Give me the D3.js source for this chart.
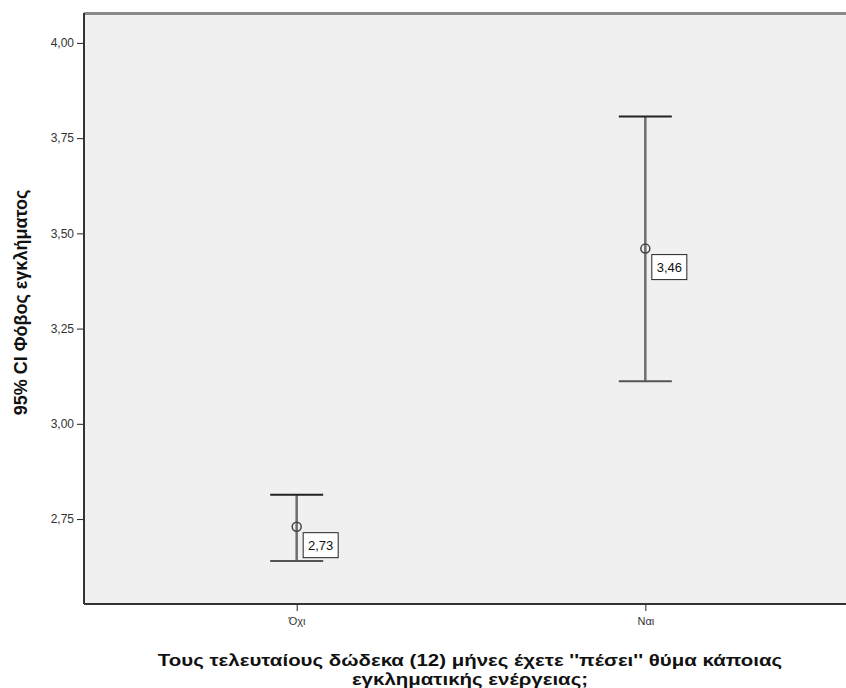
<!DOCTYPE html>
<html>
<head>
<meta charset="utf-8">
<script src="https://cdn.jsdelivr.net/npm/d3@7"></script>
<style>
  html, body { margin: 0; padding: 0; background: #ffffff; }
  svg { display: block; }
  text { font-family: "Liberation Sans", Arial, sans-serif; }
</style>
</head>
<body>
<svg id="chart" width="846" height="688"></svg>
<script>
// Groups and their 95% confidence intervals of the mean
const categories = ["Όχι", "Ναι"];
const means = [2.73, 3.46];
const lowerCI = [2.640, 3.112];
const upperCI = [2.814, 3.807];
const meanLabels = ["2,73", "3,46"];
const yTicks = [2.75, 3.00, 3.25, 3.50, 3.75, 4.00];

const yTitle = "95% CI Φόβος εγκλήματος";
const xTitleLines = ["Τους τελευταίους δώδεκα (12) μήνες έχετε ''πέσει'' θύμα κάποιας", "εγκληματικής ενέργειας;"];

const svg = d3.select("#chart");
const plot = { left: 84, top: 13, right: 858, bottom: 604 };

const x = d3.scalePoint()
  .domain(categories)
  .range([plot.left, plot.right])
  .padding(0.61);

const y = d3.scaleLinear()
  .domain([2.527, 4.0785])
  .range([plot.bottom, plot.top]);

const fmt = v => d3.format(".2f")(v).replace(".", ",");

// plot background
svg.append("rect")
  .attr("x", plot.left).attr("y", plot.top)
  .attr("width", plot.right - plot.left).attr("height", plot.bottom - plot.top)
  .attr("fill", "#f0f0f0");

// frame: lighter top edge, darker left and bottom edges
svg.append("line")
  .attr("x1", plot.left).attr("x2", plot.right)
  .attr("y1", plot.top + 0.5).attr("y2", plot.top + 0.5)
  .attr("stroke", "#8a8a8a").attr("stroke-width", 3);
svg.append("line")
  .attr("x1", plot.left).attr("x2", plot.left)
  .attr("y1", plot.top).attr("y2", plot.bottom)
  .attr("stroke", "#333").attr("stroke-width", 2);
svg.append("line")
  .attr("x1", plot.left).attr("x2", plot.right)
  .attr("y1", plot.bottom).attr("y2", plot.bottom)
  .attr("stroke", "#333").attr("stroke-width", 2);

// y axis
const yAxis = d3.axisLeft(y).tickValues(yTicks).tickFormat(fmt).tickSize(6).tickPadding(3);
const gy = svg.append("g").attr("transform", `translate(${plot.left - 1},0)`).call(yAxis);
gy.select(".domain").remove();
gy.selectAll(".tick line").attr("stroke", "#222");
gy.selectAll(".tick text").attr("fill", "#333").style("font-size", "12px");

// x axis
const xAxis = d3.axisBottom(x).tickSize(6).tickPadding(6);
const gx = svg.append("g").attr("transform", `translate(0,${plot.bottom + 1})`).call(xAxis);
gx.select(".domain").remove();
gx.selectAll(".tick line").attr("stroke", "#222");
gx.selectAll(".tick text").attr("fill", "#333").style("font-size", "11px");

// error bars
const groups = categories.map((c, i) => ({ c, m: means[i], lo: lowerCI[i], hi: upperCI[i], lab: meanLabels[i] }));
const capHalf = 26.5;
const g = svg.append("g");

g.selectAll("line.stem").data(groups).join("line")
  .attr("class", "stem")
  .attr("x1", d => x(d.c)).attr("x2", d => x(d.c))
  .attr("y1", d => y(d.hi)).attr("y2", d => y(d.lo))
  .attr("stroke", "#6e6e6e").attr("stroke-width", 2.5);

g.selectAll("line.capHi").data(groups).join("line")
  .attr("class", "capHi")
  .attr("x1", d => x(d.c) - capHalf).attr("x2", d => x(d.c) + capHalf)
  .attr("y1", d => y(d.hi)).attr("y2", d => y(d.hi))
  .attr("stroke", "#222").attr("stroke-width", 2);

g.selectAll("line.capLo").data(groups).join("line")
  .attr("class", "capLo")
  .attr("x1", d => x(d.c) - capHalf).attr("x2", d => x(d.c) + capHalf)
  .attr("y1", d => y(d.lo)).attr("y2", d => y(d.lo))
  .attr("stroke", "#555").attr("stroke-width", 2);

g.selectAll("circle.mean").data(groups).join("circle")
  .attr("class", "mean")
  .attr("cx", d => x(d.c)).attr("cy", d => y(d.m))
  .attr("r", 4.5)
  .attr("fill", "none").attr("stroke", "#444").attr("stroke-width", 1.5);

// value labels
const lab = g.selectAll("g.lab").data(groups).join("g")
  .attr("class", "lab")
  .attr("transform", d => `translate(${x(d.c) + 6.5},${y(d.m) + 6})`);
lab.append("rect")
  .attr("x", 0).attr("y", 0).attr("width", 35).attr("height", 25)
  .attr("fill", "#ffffff").attr("stroke", "#222").attr("stroke-width", 1);
lab.append("text")
  .attr("x", 17.5).attr("y", 17.5)
  .attr("text-anchor", "middle")
  .style("font-size", "13px").attr("fill", "#111")
  .text(d => d.lab);

// axis titles
svg.append("text")
  .attr("transform", `translate(27,${(plot.top + plot.bottom) / 2 - 6}) rotate(-90)`)
  .attr("text-anchor", "middle")
  .style("font-size", "18px").style("font-weight", "bold").attr("fill", "#111")
  .text(yTitle);

// x title: two centred lines in a slightly widened bold face
svg.selectAll("text.xtitle").data(xTitleLines).join("text")
  .attr("class", "xtitle")
  .attr("transform", (d, i) => `translate(470,${666 + i * 19}) scale(1.24,1)`)
  .attr("text-anchor", "middle")
  .style("font-size", "16.5px").style("font-weight", "bold").attr("fill", "#111")
  .text(d => d);
</script>
</body>
</html>
